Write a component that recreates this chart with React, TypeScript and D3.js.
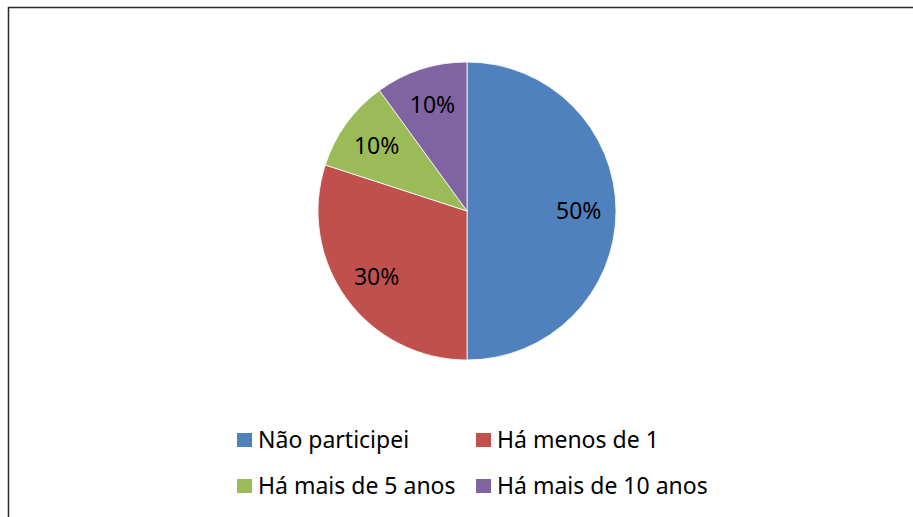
import React from "react";
import * as d3 from "d3";

const categories = ["Não participei", "Há menos de 1", "Há mais de 5 anos", "Há mais de 10 anos"];
const values = [50, 30, 10, 10];
const colors = ["#4F81BD", "#C0504D", "#9BBB59", "#8064A2"];

const W = 913;
const H = 517;
const cx = 467;
const cy = 211;
const R = 149;

export default function App() {
  const pie = d3.pie<number>().sort(null).value((d) => d)(values);
  const arc = d3.arc<d3.PieArcDatum<number>>().innerRadius(0).outerRadius(R);
  const labelArc = d3.arc<d3.PieArcDatum<number>>().innerRadius(R * 0.75).outerRadius(R * 0.75);
  const total = d3.sum(values);
  const fmt = (v: number) => `${Math.round((v / total) * 100)}%`;

  const legendPos = [
    { x: 237, y: 433 },
    { x: 476, y: 433 },
    { x: 237, y: 479 },
    { x: 476, y: 479 },
  ];

  return (
    <svg
      width={W}
      height={H}
      style={{ position: "absolute", left: 0, top: 0, background: "#fff" }}
      fontFamily="'Noto Sans', sans-serif"
    >
      <rect x={0} y={0} width={W} height={H} fill="#fff" />
      <path d={`M8.5,${H} L8.5,7.5 L${W},7.5`} fill="none" stroke="#2b2b2b" strokeWidth={1.5} />
      <g transform={`translate(${cx},${cy})`}>
        {pie.map((p, i) => (
          <path key={i} d={arc(p) || ""} fill={colors[i]} stroke="#fff" strokeWidth={0.8} />
        ))}
        {pie.map((p, i) => {
          const [lx, ly] = labelArc.centroid(p);
          return (
            <text key={i} x={lx} y={ly} textAnchor="middle" dy="0.36em" fontSize={23} fill="#000">
              {fmt(p.data)}
            </text>
          );
        })}
      </g>
      {categories.map((c, i) => (
        <g key={c}>
          <rect x={legendPos[i].x} y={legendPos[i].y} width={15} height={14} fill={colors[i]} />
          <text x={legendPos[i].x + 21} y={legendPos[i].y + 14.5} fontSize={23} fill="#000">
            {c}
          </text>
        </g>
      ))}
    </svg>
  );
}
